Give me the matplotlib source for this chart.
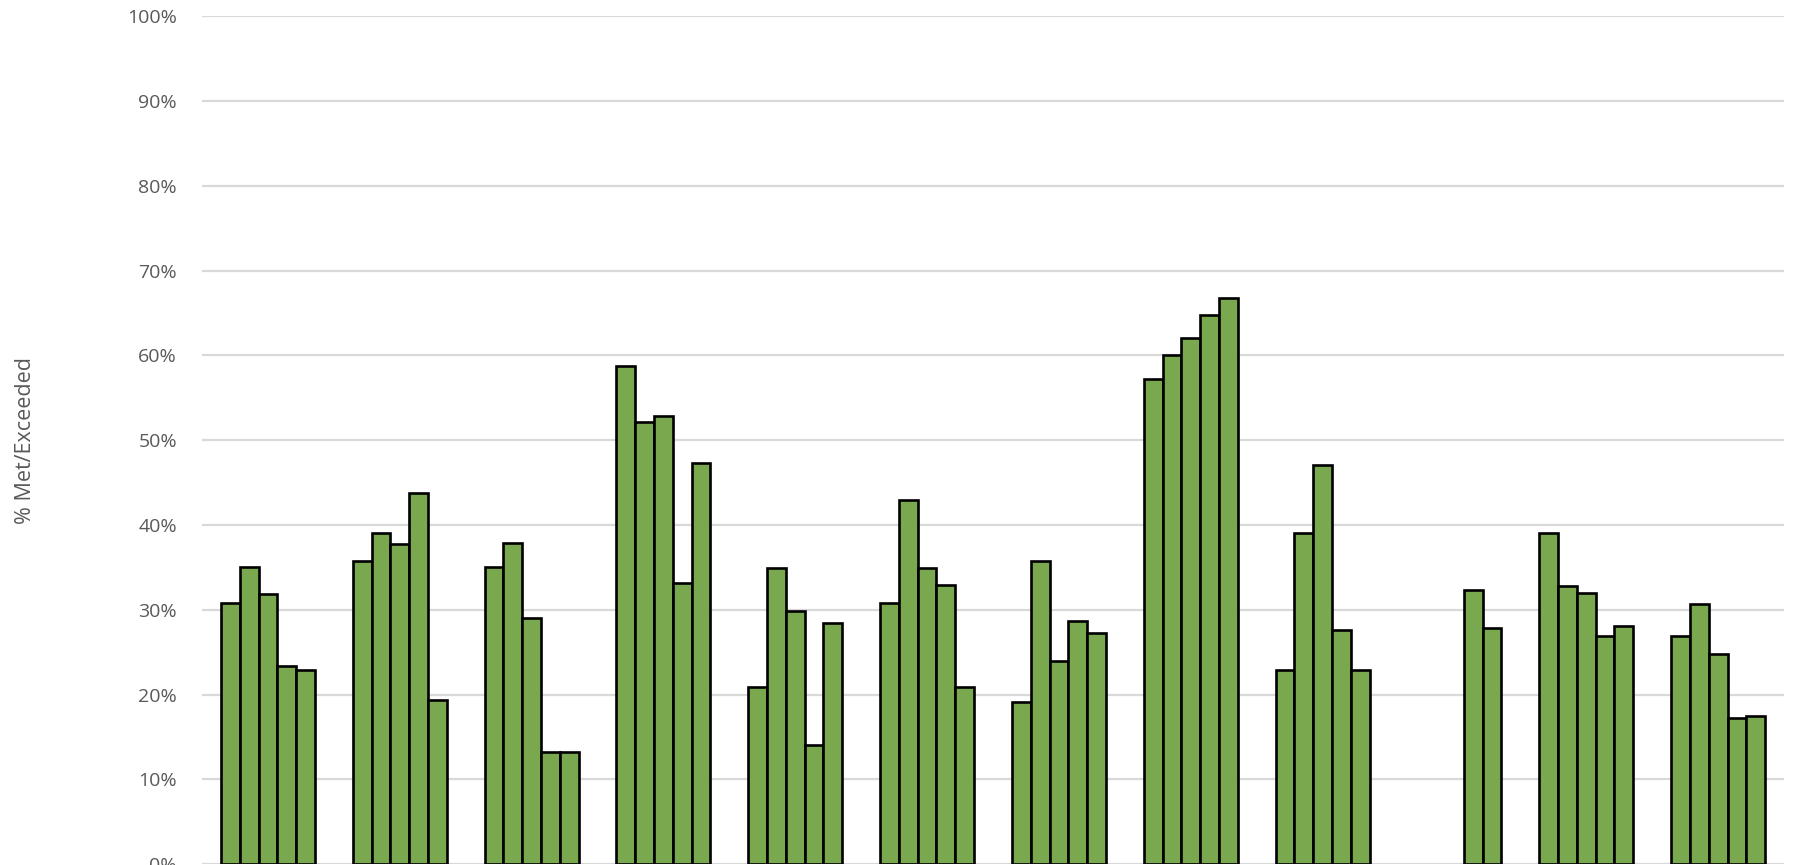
import numpy as np
from matplotlib import pyplot as plt
from matplotlib.ticker import PercentFormatter

# 12 groups, 5 bars each (None = no bar)
groups = list(range(12))
series1 = [30.8, 35.8, 35.0, 58.8, 20.9, 30.8, 19.1, 57.2, 22.9, None, 39.1, 26.9]
series2 = [35.0, 39.1, 37.9, 52.1, 34.9, 42.9, 35.8, 60.0, 39.1, None, 32.8, 30.7]
series3 = [31.9, 37.8, 29.0, 52.9, 29.9, 34.9, 24.0, 62.1, 47.1, None, 32.0, 24.8]
series4 = [23.4, 43.8, 13.2, 33.1, 14.1, 32.9, 28.7, 64.8, 27.6, 32.3, 26.9, 17.2]
series5 = [22.9, 19.3, 13.2, 47.3, 28.4, 20.9, 27.3, 66.8, 22.9, 27.8, 28.1, 17.5]
allSeries = [series1, series2, series3, series4, series5]

barColor = '#79a84f'
gridColor = '#d9d9d9'
textColor = '#595959'

plt.rcParams['font.family'] = ['Open Sans', 'DejaVu Sans']

fig = plt.figure(figsize=(17.97, 8.65), dpi=100)
ax = fig.add_axes([0.1124, 0.001, 0.8804, 0.9803])

w = 0.1425
for i, s in enumerate(allSeries):
    xs = [g + (i - 2) * w for g, v in zip(groups, s) if v is not None]
    hs = [v for v in s if v is not None]
    ax.bar(xs, hs, width=w, color=barColor, edgecolor='black', linewidth=1.9, zorder=3)

ax.set_xlim(-0.5, 11.5)
ax.set_ylim(0, 100)
ax.set_yticks(np.arange(0, 101, 10))
ax.yaxis.set_major_formatter(PercentFormatter(decimals=0))
ax.set_xticks([])
ax.grid(axis='y', color=gridColor, linewidth=1.6, zorder=0)
for sp in ax.spines.values():
    sp.set_visible(False)
ax.tick_params(axis='y', length=0, pad=18, labelsize=14, labelcolor=textColor)
ax.set_ylabel('% Met/Exceeded', fontsize=15.5, color=textColor)
ax.yaxis.set_label_coords(-0.105, 0.5)

fig.savefig('out.png', dpi=100)
